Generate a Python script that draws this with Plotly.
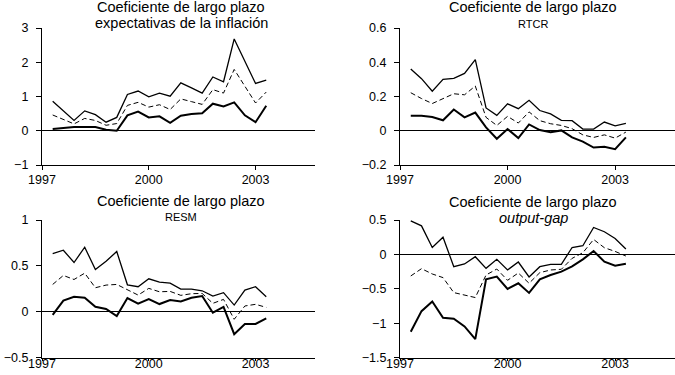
import plotly.graph_objects as go

# Observation dates (decimal years)
periods = [1997.3, 1997.6, 1997.9, 1998.2, 1998.5, 1998.8, 1999.1, 1999.4, 1999.7, 2000.0,
           2000.3, 2000.6, 2000.9, 2001.2, 2001.5, 2001.8, 2002.1, 2002.4, 2002.7, 2003.0, 2003.3]

# Panel 1: expectativas de la inflación
infl_upper = [0.86, 0.59, 0.30, 0.58, 0.47, 0.25, 0.39, 1.06, 1.16, 0.99, 1.10, 1.01, 1.40, 1.25,
              1.10, 1.57, 1.43, 2.68, 2.04, 1.38, 1.48]
infl_mid = [0.46, 0.32, 0.20, 0.36, 0.30, 0.16, 0.21, 0.74, 0.83, 0.69, 0.76, 0.62, 0.93, 0.85,
            0.77, 1.20, 1.10, 1.79, 1.30, 0.81, 1.13]
infl_lower = [0.05, 0.08, 0.11, 0.11, 0.11, 0.03, 0.00, 0.45, 0.56, 0.39, 0.42, 0.23, 0.44, 0.49,
              0.51, 0.79, 0.71, 0.83, 0.45, 0.25, 0.73]

# Panel 2: RTCR
rtcr_upper = [0.360, 0.304, 0.231, 0.300, 0.306, 0.335, 0.415, 0.133, 0.090, 0.157, 0.129, 0.178,
              0.118, 0.098, 0.061, 0.059, 0.010, 0.010, 0.051, 0.029, 0.043]
rtcr_mid = [0.222, 0.188, 0.159, 0.188, 0.216, 0.210, 0.261, 0.078, 0.031, 0.084, 0.045, 0.110,
            0.059, 0.041, 0.031, 0.012, -0.024, -0.039, -0.024, -0.043, -0.008]
rtcr_lower = [0.088, 0.088, 0.080, 0.061, 0.124, 0.078, 0.106, 0.020, -0.047, 0.010, -0.043, 0.037,
              0.004, -0.008, 0.002, -0.039, -0.063, -0.098, -0.094, -0.108, -0.039]

# Panel 3: RESM
resm_upper = [0.634, 0.670, 0.536, 0.703, 0.460, 0.550, 0.656, 0.293, 0.272, 0.359, 0.322, 0.312,
              0.246, 0.246, 0.228, 0.170, 0.207, 0.072, 0.236, 0.272, 0.163]
resm_mid = [0.297, 0.395, 0.351, 0.420, 0.261, 0.290, 0.297, 0.236, 0.181, 0.254, 0.217, 0.221,
            0.178, 0.196, 0.199, 0.091, 0.134, -0.083, 0.062, 0.080, 0.047]
resm_lower = [-0.036, 0.120, 0.163, 0.152, 0.054, 0.029, -0.047, 0.149, 0.087, 0.138, 0.083, 0.127,
              0.112, 0.152, 0.170, -0.011, 0.051, -0.246, -0.134, -0.134, -0.072]

# Panel 4: output-gap
gap_upper = [0.488, 0.415, 0.100, 0.250, -0.179, -0.140, -0.034, -0.203, -0.072, -0.227, -0.111,
             -0.329, -0.179, -0.145, -0.145, 0.100, 0.126, 0.391, 0.329, 0.232, 0.077]
gap_mid = [-0.314, -0.208, -0.285, -0.338, -0.556, -0.594, -0.628, -0.300, -0.213, -0.377, -0.271,
           -0.420, -0.266, -0.227, -0.217, -0.058, 0.024, 0.217, 0.097, 0.043, -0.024]
gap_lower = [-1.126, -0.826, -0.686, -0.923, -0.937, -1.048, -1.232, -0.362, -0.324, -0.502, -0.420,
             -0.560, -0.362, -0.300, -0.251, -0.174, -0.072, 0.048, -0.106, -0.164, -0.135]

xticks = [1997, 2000, 2003]
xtick_labels = ["1997", "2000", "2003"]

panels = [
    dict(upper=infl_upper, mid=infl_mid, lower=infl_lower, yrange=[-1, 3], dtick=1,
         sub="expectativas de la inflación", subsize=14.5, italic=False),
    dict(upper=rtcr_upper, mid=rtcr_mid, lower=rtcr_lower, yrange=[-0.2, 0.6], dtick=0.2,
         sub="RTCR", subsize=11, italic=False),
    dict(upper=resm_upper, mid=resm_mid, lower=resm_lower, yrange=[-0.5, 1], dtick=0.5,
         sub="RESM", subsize=11, italic=False),
    dict(upper=gap_upper, mid=gap_mid, lower=gap_lower, yrange=[-1.5, 0.5], dtick=0.5,
         sub="output-gap", subsize=14.5, italic=True),
]

W, H = 675, 375
# pixel layout of each panel: (left, right, top, bottom)
boxes = [(42, 315, 28, 165), (400, 675, 28, 165), (42, 315, 220, 357.5), (400, 675, 220, 357.5)]
title_cx = [181, 533, 181, 533]
title_y1 = [7, 7, 201, 201.5]
title_y2 = [23, 24, 217, 218]
x_standoff = [-1, -1, -8, -8]
x_ticklen = [4, 4, 2, 2]

FONT = "Liberation Sans, Arial, sans-serif"
fig = go.Figure()
layout = dict(width=W, height=H, margin=dict(l=0, r=0, t=0, b=0, autoexpand=False),
              paper_bgcolor="white", plot_bgcolor="white", showlegend=False,
              template="none", font=dict(family=FONT, color="black"))
annotations = []

for i, p in enumerate(panels):
    n = i + 1
    xa = "x" if n == 1 else f"x{n}"
    ya = "y" if n == 1 else f"y{n}"
    fig.add_trace(go.Scatter(x=periods, y=p["upper"], mode="lines", xaxis=xa, yaxis=ya,
                             line=dict(color="black", width=1.3)))
    fig.add_trace(go.Scatter(x=periods, y=p["mid"], mode="lines", xaxis=xa, yaxis=ya,
                             line=dict(color="black", width=1.0, dash="5px,3px")))
    fig.add_trace(go.Scatter(x=periods, y=p["lower"], mode="lines", xaxis=xa, yaxis=ya,
                             line=dict(color="black", width=2.0)))
    l, r, t, b = boxes[i]
    xk = "xaxis" if n == 1 else f"xaxis{n}"
    yk = "yaxis" if n == 1 else f"yaxis{n}"
    layout[xk] = dict(domain=[l / W, r / W], anchor=ya, range=[1997, 2004.67],
                      tickvals=xticks, ticktext=xtick_labels, ticks="outside",
                      ticklen=x_ticklen[i], tickwidth=1.2, tickcolor="black", showline=True,
                      linecolor="black", linewidth=1.3, showgrid=False, zeroline=False,
                      ticklabelstandoff=x_standoff[i],
                      tickfont=dict(size=12.5, family=FONT, color="black"))
    layout[yk] = dict(domain=[1 - b / H, 1 - t / H], anchor=xa, range=p["yrange"],
                      dtick=p["dtick"], tick0=0, ticks="outside", ticklen=5, tickwidth=1.2,
                      tickcolor="black", showline=True, linecolor="black", linewidth=1.3,
                      showgrid=False, zeroline=True, zerolinecolor="black", zerolinewidth=1.3,
                      tickfont=dict(size=12.5, family=FONT, color="black"),
                      ticklabelstandoff=5)
    annotations.append(dict(text="Coeficiente de largo plazo", x=title_cx[i] / W,
                            y=1 - title_y1[i] / H, xref="paper", yref="paper",
                            xanchor="center", yanchor="middle", showarrow=False,
                            font=dict(size=14.5, family=FONT, color="black")))
    sub = f"<i>{p['sub']}</i>" if p["italic"] else p["sub"]
    annotations.append(dict(text=sub, x=title_cx[i] / W, y=1 - title_y2[i] / H,
                            xref="paper", yref="paper", xanchor="center", yanchor="middle",
                            showarrow=False,
                            font=dict(size=p["subsize"], family=FONT, color="black")))

layout["annotations"] = annotations
fig.update_layout(**layout)
fig.write_html("out.html", config={"displayModeBar": False},
               post_script="document.body.style.margin='0';document.body.style.overflow='hidden';")
